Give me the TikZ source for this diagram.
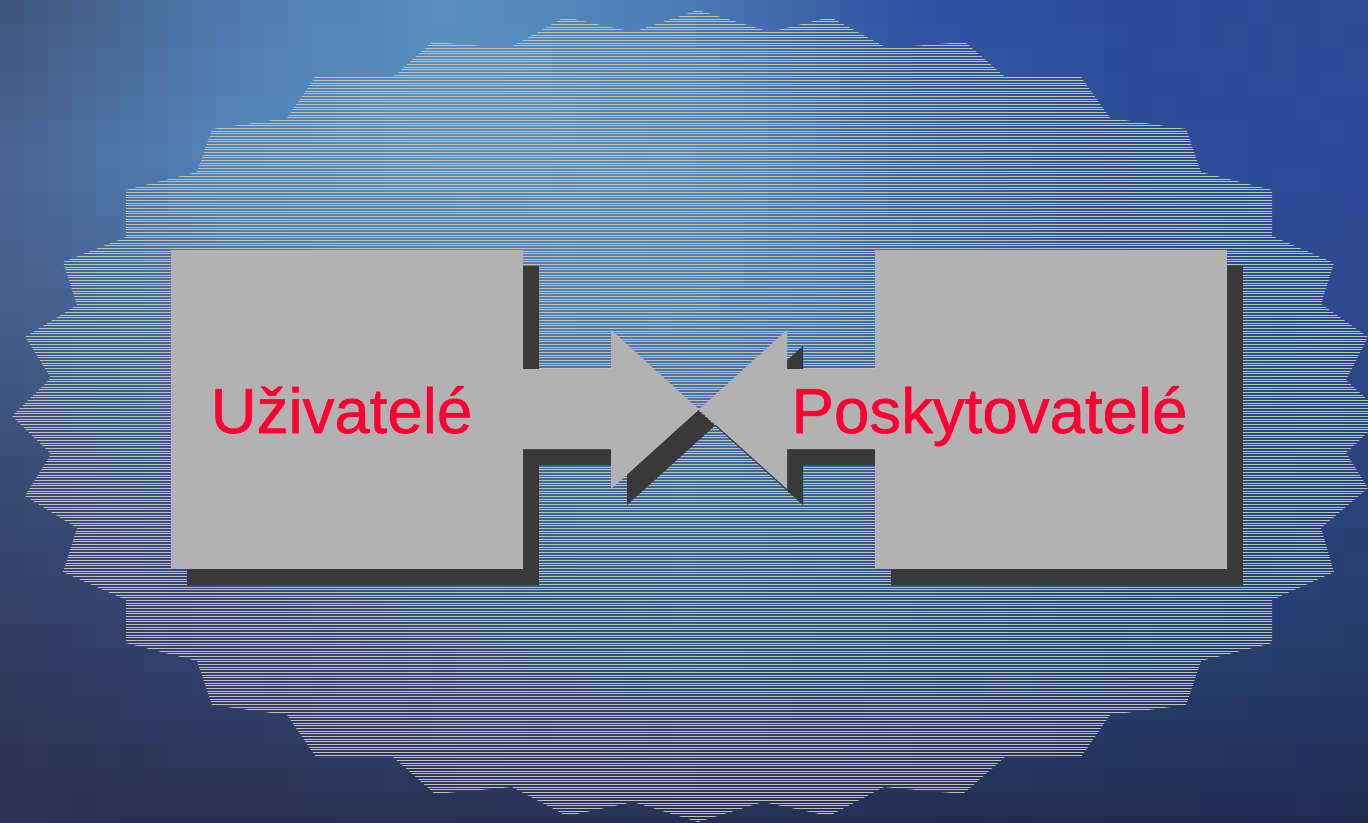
\documentclass[tikz,border=0pt]{standalone}
\usepackage{fontspec}
\setmainfont{Liberation Sans}
\newfontfamily\labelfont[FakeBold=0.9]{Liberation Sans}
\definecolor{boxgrey}{HTML}{B2B2B2}
\definecolor{shadowgrey}{HTML}{393939}
\definecolor{stripegrey}{HTML}{C2BFB6}
\definecolor{labelred}{HTML}{FF0033}
\newcommand\setbg[5]{%
  \expandafter\def\csname bgr#1-#2\endcsname{#3}%
  \expandafter\def\csname bgg#1-#2\endcsname{#4}%
  \expandafter\def\csname bgb#1-#2\endcsname{#5}}
\newcommand\bgrow[8]{%
  \def\rowidx{#1}\bgcell{0}#2\bgcell{1}#3\bgcell{2}#4\bgcell{3}#5\bgcell{4}#6\bgcell{5}#7\bgcell{6}#8}
\def\bgcell#1#2/#3/#4;{\setbg{#1}{\rowidx}{#2}{#3}{#4}}
\bgrow{0}{61/84/120;}{79/120/173;}{90/144/192;}{74/120/180;}{47/80/160;}{45/75/151;}{47/76/149;}
\bgrow{1}{72/100/148;}{85/133/185;}{88/140/188;}{90/136/188;}{58/98/168;}{46/76/152;}{46/75/154;}
\bgrow{2}{66/92/134;}{71/105/156;}{79/120/173;}{79/120/176;}{63/102/165;}{48/80/154;}{44/72/136;}
\bgrow{3}{56/74/112;}{58/85/133;}{64/96/143;}{68/100/154;}{58/90/149;}{44/74/133;}{42/66/120;}
\bgrow{4}{48/57/95;}{49/65/110;}{52/74/120;}{52/80/126;}{47/74/120;}{38/64/111;}{36/58/104;}
\bgrow{5}{44/48/82;}{42/47/82;}{42/48/85;}{39/47/85;}{36/44/82;}{33/43/80;}{31/42/80;}
\newcommand\bgval[1]{(1-\fu)*(1-\fv)*\csname bg#1\iu-\jv\endcsname
  +\fu*(1-\fv)*\csname bg#1\iup-\jv\endcsname
  +(1-\fu)*\fv*\csname bg#1\iu-\jvp\endcsname
  +\fu*\fv*\csname bg#1\iup-\jvp\endcsname}
\tikzset{
  plainbox/.style={rectangle,fill=boxgrey,draw=none,inner sep=0pt,outer sep=0pt,minimum width=352pt,minimum height=319.5pt},
  shadowbox/.style={plainbox,fill=shadowgrey},
  blockgrey/.style={fill=boxgrey,draw=none},
  blockshadow/.style={fill=shadowgrey,draw=none},
  stripe/.style={draw=stripegrey,line width=0.75pt},
  labeltext/.style={text=labelred,font=\labelfont\fontsize{63.6pt}{70pt}\selectfont,inner sep=0pt,anchor=base}
}
\begin{document}
\begin{tikzpicture}[x=1pt,y=-1pt]
\useasboundingbox (0,0) rectangle (1368,822);
\clip (0,0) rectangle (1368,822);
% mottled background
\pgfmathsetseed{7}
\foreach \i in {0,...,56}{
  \foreach \j in {0,...,34}{
    \pgfmathsetmacro{\cx}{\i*24+12}
    \pgfmathsetmacro{\cy}{\j*24+12}
    \pgfmathtruncatemacro{\iu}{min(5,floor(\cx/228))}
    \pgfmathtruncatemacro{\jv}{min(4,floor(\cy/164.4))}
    \pgfmathtruncatemacro{\iup}{\iu+1}
    \pgfmathtruncatemacro{\jvp}{\jv+1}
    \pgfmathsetmacro{\fu}{\cx/228-\iu}
    \pgfmathsetmacro{\fv}{\cy/164.4-\jv}
    \pgfmathsetmacro{\dl}{0.8*rand}
    \pgfmathtruncatemacro{\vr}{\bgval{r}+\dl+0.5}
    \pgfmathtruncatemacro{\vg}{\bgval{g}+\dl+0.5}
    \pgfmathtruncatemacro{\vb}{\bgval{b}+\dl+0.5}
    \definecolor{cellc}{RGB}{\vr,\vg,\vb}
    \fill[cellc] (\i*24,\j*24) rectangle ++(25,25);
  }
}
% striped starburst
\begin{scope}
\clip (12,416) -- (51,378) -- (25,337) -- (77,305) -- (63,262) -- (126,237)
  -- (126,190) -- (197,172) -- (212,129) -- (287,118) -- (315,77) -- (393,77)
  -- (432,42) -- (509,48) -- (565,17) -- (633,32) -- (698,10) -- (770,32)
  -- (830,17) -- (887,48) -- (965,42) -- (1005,77) -- (1081,77) -- (1110,118)
  -- (1186,129) -- (1201,172) -- (1272,190) -- (1272,236) -- (1334,263)
  -- (1321,304) -- (1368,337) -- (1346,380) -- (1385,416) -- (1346,453)
  -- (1368,488) -- (1321,528) -- (1334,572) -- (1272,600) -- (1272,643)
  -- (1201,661) -- (1186,705) -- (1110,715) -- (1081,757) -- (1005,757)
  -- (963,794) -- (884,787) -- (829,816) -- (763,802) -- (698,822)
  -- (633,802) -- (567,816) -- (512,787) -- (435,794) -- (393,757)
  -- (316,757) -- (287,715) -- (212,705) -- (197,661) -- (126,643)
  -- (126,600) -- (63,572) -- (77,528) -- (25,496) -- (51,454) -- cycle;
\foreach \k in {0,...,305}{
  \draw[stripe] (0,11+\k*2.667) -- (1368,11+\k*2.667);
}
\end{scope}
% shadows
\node[shadowbox] (leftshadow) at (362.6,425.6) {};
\node[shadowbox] (rightshadow) at (1067,425.6) {};
\fill[blockshadow] (538,385) -- (627,385) -- (627,346) -- (715,425.5) -- (627,505) -- (627,465) -- (538,465) -- cycle;
\fill[blockshadow] (891,385) -- (803,385) -- (803,346) -- (715,425.5) -- (803,505) -- (803,465) -- (891,465) -- cycle;
% boxes and block arrows
\fill[blockgrey] (522,369) -- (611,369) -- (611,330) -- (699,409.5) -- (611,489) -- (611,449) -- (522,449) -- cycle;
\fill[blockgrey] (875,369) -- (787,369) -- (787,330) -- (699,409.5) -- (787,489) -- (787,449) -- (875,449) -- cycle;
\node[plainbox] (users) at (346.6,409.6) {};
\node[plainbox] (providers) at (1051,409.6) {};
% labels
\node[labeltext] (userslabel) at (341.5,433) {Uživatelé};
\node[labeltext] (providerslabel) at (989.5,433) {Poskytovatelé};
\end{tikzpicture}
\end{document}
